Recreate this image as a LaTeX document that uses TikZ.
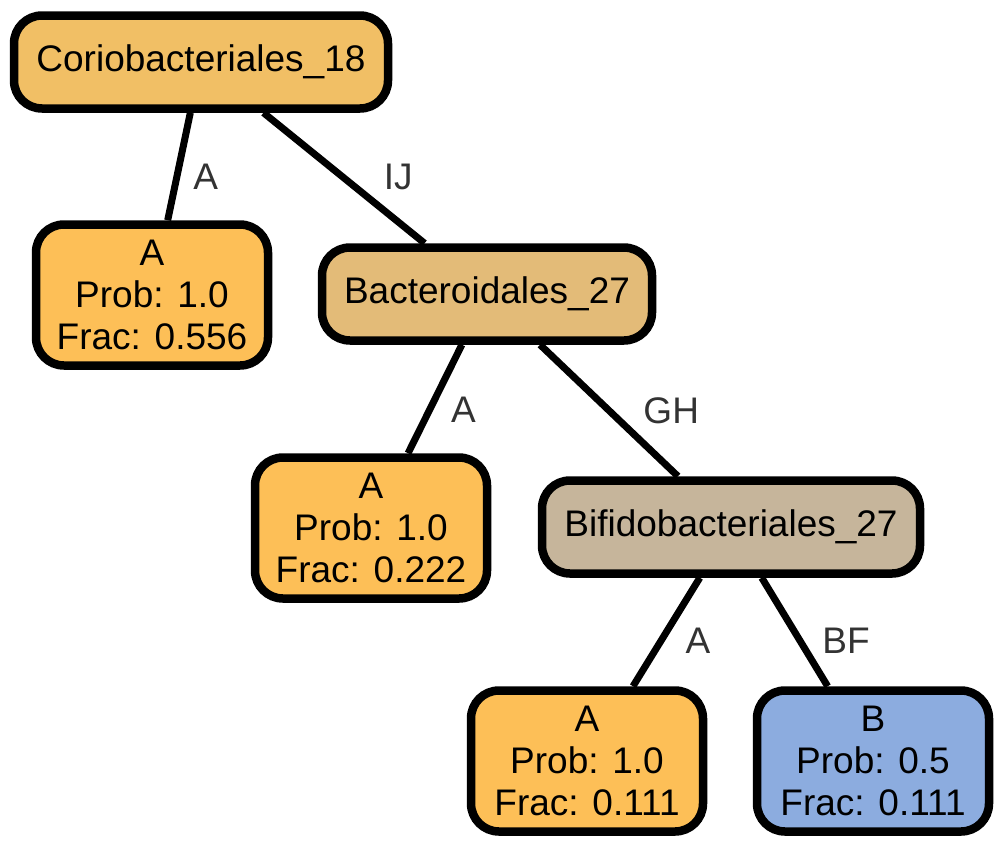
\documentclass[tikz,border=0pt]{standalone}
\usepackage{fontspec}
\setmainfont{Liberation Sans}
\usepackage{xcolor}
\usetikzlibrary{positioning}
\definecolor{corio}{HTML}{F1BF65}
\definecolor{leafA}{HTML}{FDBF57}
\definecolor{bacte}{HTML}{E3BB78}
\definecolor{bifid}{HTML}{C6B59B}
\definecolor{leafB}{HTML}{8CACDF}
\definecolor{labgray}{HTML}{333333}

\begin{document}
\begin{tikzpicture}[x=1pt, y=-1pt,
every node/.style = {font=\fontsize{37}{42}\selectfont},
  taxon/.style = {draw, line width=8.5pt, rounded corners=28pt, minimum height=93pt, align=center, inner sep=0pt},
  leaf/.style = {taxon, minimum width=232pt, minimum height=141pt},
  elabel/.style = {text=labgray, anchor=west, inner sep=0pt},
  edge/.style = {line width=7pt}
]
\useasboundingbox (0,0) rectangle (1003,846);
\node (c18) [taxon, fill=corio, minimum width=374pt] at (201,62) {Coriobacteriales\_18};
\node (a1) [leaf, fill=leafA] at (152,295) {A\\Prob: 1.0\\Frac: 0.556};
\node (b27) [taxon, fill=bacte, minimum width=330pt] at (487,294) {Bacteroidales\_27};
\node (a2) [leaf, fill=leafA] at (371,528) {A\\Prob: 1.0\\Frac: 0.222};
\node (f27) [taxon, fill=bifid, minimum width=378pt] at (731,527) {Bifidobacteriales\_27};
\node (a3) [leaf, fill=leafA] at (587,761) {A\\Prob: 1.0\\Frac: 0.111};
\node (bb) [leaf, fill=leafB] at (873,761) {B\\Prob: 0.5\\Frac: 0.111};
\draw[edge] (c18) -- node[elabel, pos=0.6, xshift=13pt] {A} (a1);
\draw[edge] (c18) -- node[elabel, pos=0.49, xshift=38pt] {IJ} (b27);
\draw[edge] (b27) -- node[elabel, pos=0.6, xshift=18pt] {A} (a2);
\draw[edge] (b27) -- node[elabel, pos=0.5, xshift=31pt] {GH} (f27);
\draw[edge] (f27) -- node[elabel, pos=0.58, xshift=21pt] {A} (a3);
\draw[edge] (f27) -- node[elabel, pos=0.58, xshift=19pt] {BF} (bb);
\end{tikzpicture}
\end{document}
